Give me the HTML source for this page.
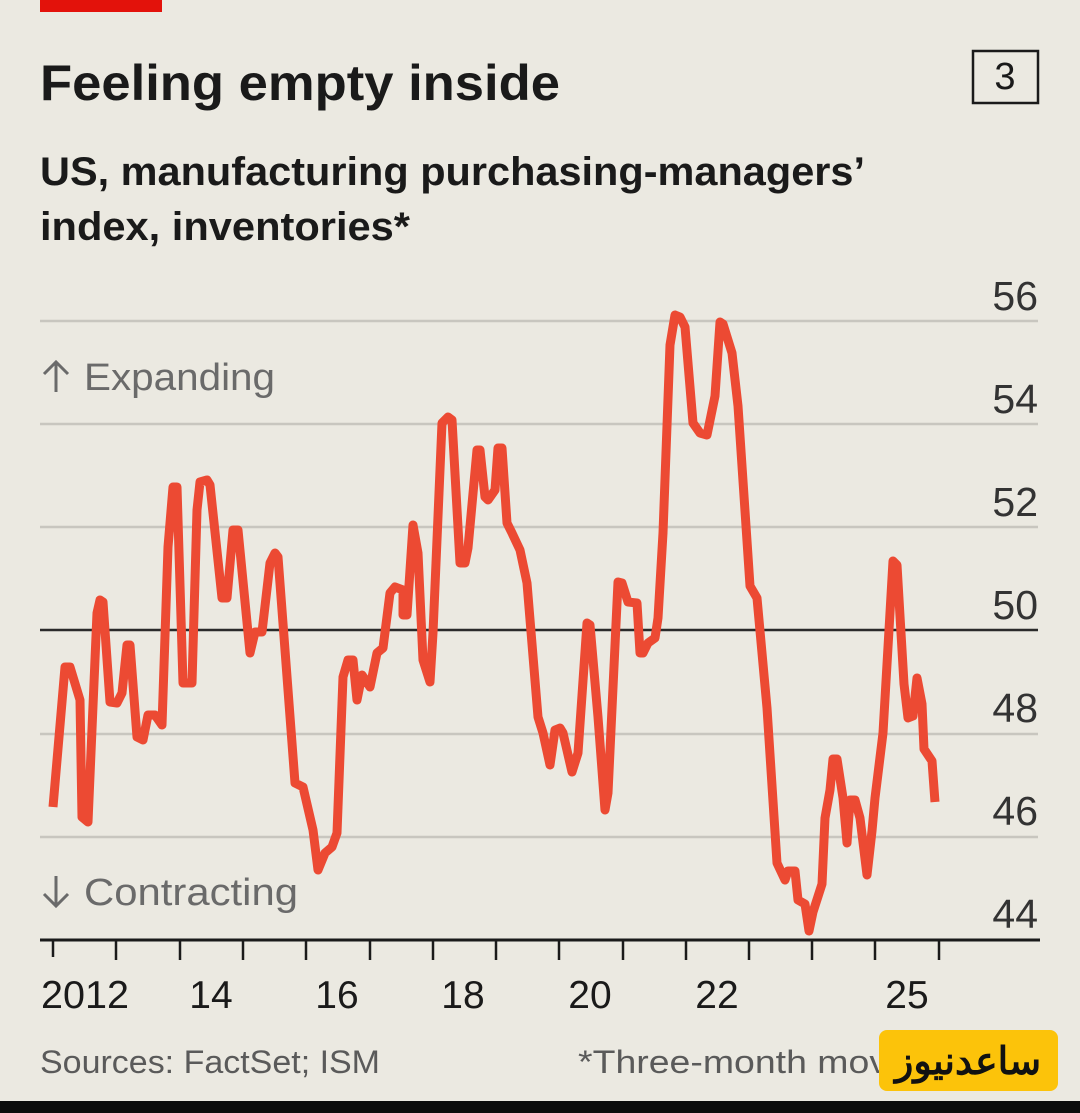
<!DOCTYPE html>
<html><head><meta charset="utf-8"><style>
html,body{margin:0;padding:0;background:#ebe9e1;}
svg{display:block;}
text{font-family:"Liberation Sans","Noto Sans CJK SC",sans-serif;}
</style></head><body>
<svg width="1080" height="1113" viewBox="0 0 1080 1113" xmlns="http://www.w3.org/2000/svg">
<rect width="1080" height="1113" fill="#ebe9e1"/>
<rect x="40" y="0" width="122" height="12" fill="#e3120b"/>
<text x="40" y="100" font-size="50" font-weight="bold" fill="#1a1a1a" textLength="520" lengthAdjust="spacingAndGlyphs">Feeling empty inside</text>
<rect x="973" y="51" width="65" height="52" fill="none" stroke="#1a1a1a" stroke-width="2.5"/>
<text x="1005" y="89" font-size="38" text-anchor="middle" fill="#1a1a1a">3</text>
<text x="40" y="185" font-size="40" font-weight="bold" fill="#1a1a1a" textLength="825" lengthAdjust="spacingAndGlyphs">US, manufacturing purchasing-managers’</text>
<text x="40" y="240" font-size="40" font-weight="bold" fill="#1a1a1a" textLength="370" lengthAdjust="spacingAndGlyphs">index, inventories*</text>
<g stroke="#c8c6bf" stroke-width="2.5">
<line x1="40" y1="321" x2="1038" y2="321"/>
<line x1="40" y1="424" x2="1038" y2="424"/>
<line x1="40" y1="527" x2="1038" y2="527"/>
<line x1="40" y1="734" x2="1038" y2="734"/>
<line x1="40" y1="837" x2="1038" y2="837"/>
</g>
<line x1="40" y1="630" x2="1038" y2="630" stroke="#2a2a2a" stroke-width="2.5"/>
<g font-size="41" fill="#333" text-anchor="end">
<text x="1038" y="310">56</text><text x="1038" y="413">54</text><text x="1038" y="516">52</text>
<text x="1038" y="619">50</text><text x="1038" y="722">48</text><text x="1038" y="825">46</text><text x="1038" y="928">44</text>
</g>
<g stroke="#6a6a6a" stroke-width="3" fill="none">
<path d="M56,362 V392 M44,374 L56,362 L68,374"/>
<path d="M56,876 V906 M44,894 L56,906 L68,894"/>
</g>
<text x="84" y="390" font-size="38" fill="#6a6a6a" textLength="191" lengthAdjust="spacingAndGlyphs">Expanding</text>
<text x="84" y="905" font-size="38" fill="#6a6a6a" textLength="214" lengthAdjust="spacingAndGlyphs">Contracting</text>
<polyline fill="none" stroke="#ec4a33" stroke-width="9" stroke-linejoin="round" points="53,807 65,667 70,667 80,700 82,817 88,822 97,613 100,600 103,602 110,702 117,703 122,693 127,645 130,645 137,737 143,740 148,715 155,715 162,725 168,547 173,487 177,487 183,683 192,683 197,510 200,482 207,480 210,485 222,598 227,598 233,530 238,530 250,653 255,632 262,632 270,563 275,553 278,557 295,783 303,787 313,830 318,870 325,853 332,847 337,833 343,677 348,660 353,660 357,700 362,675 370,687 377,653 383,648 390,593 395,587 403,590 403,615 407,615 413,525 418,553 423,660 430,682 433,633 442,423 448,417 452,420 460,563 465,563 468,548 477,450 480,450 485,497 488,500 495,490 498,448 502,448 507,523 512,533 520,550 527,583 538,717 543,733 550,765 555,730 560,728 563,733 572,772 578,753 587,623 590,625 598,717 605,810 608,793 618,582 622,583 628,602 637,603 640,653 643,653 648,643 655,638 658,618 663,533 670,345 675,315 680,317 685,327 693,423 700,433 707,435 715,396 720,322 723,324 732,353 738,406 750,586 757,598 767,708 777,863 785,880 788,871 795,871 798,900 805,904 809,931 813,912 822,884 825,818 830,790 833,759 837,759 843,798 847,843 850,800 855,800 860,818 867,875 872,831 875,798 883,733 893,561 897,565 904,684 908,718 913,716 917,678 922,704 924,749 932,761 935,802"/>
<line x1="40" y1="940" x2="1040" y2="940" stroke="#1a1a1a" stroke-width="3"/>
<g stroke="#1a1a1a" stroke-width="2.5">
<line x1="53" y1="940" x2="53" y2="957"/><line x1="116" y1="940" x2="116" y2="960"/><line x1="180" y1="940" x2="180" y2="960"/>
<line x1="243" y1="940" x2="243" y2="960"/><line x1="306" y1="940" x2="306" y2="960"/><line x1="370" y1="940" x2="370" y2="960"/>
<line x1="433" y1="940" x2="433" y2="960"/><line x1="496" y1="940" x2="496" y2="960"/><line x1="559" y1="940" x2="559" y2="960"/>
<line x1="623" y1="940" x2="623" y2="960"/><line x1="686" y1="940" x2="686" y2="960"/><line x1="749" y1="940" x2="749" y2="960"/>
<line x1="812" y1="940" x2="812" y2="960"/><line x1="875" y1="940" x2="875" y2="960"/><line x1="939" y1="940" x2="939" y2="960"/>
</g>
<g font-size="39" fill="#1a1a1a" text-anchor="middle">
<text x="85" y="1008" textLength="88" lengthAdjust="spacingAndGlyphs">2012</text>
<text x="211" y="1008">14</text><text x="337" y="1008">16</text><text x="463" y="1008">18</text>
<text x="590" y="1008">20</text><text x="717" y="1008">22</text><text x="907" y="1008">25</text>
</g>
<text x="40" y="1073" font-size="32" fill="#5a5a5a" textLength="340" lengthAdjust="spacingAndGlyphs">Sources: FactSet; ISM</text>
<text x="578" y="1073" font-size="32" fill="#5a5a5a" textLength="360" lengthAdjust="spacingAndGlyphs">*Three-month moving</text>
<rect x="879" y="1030" width="179" height="61" rx="8" fill="#fcc30a"/>
<text x="968" y="1074" font-size="38" font-weight="bold" text-anchor="middle" fill="#111" font-family="DejaVu Sans, sans-serif">ساعدنیوز</text>
<rect x="0" y="1101" width="1080" height="12" fill="#0c0c0c"/>
</svg>
</body></html>
